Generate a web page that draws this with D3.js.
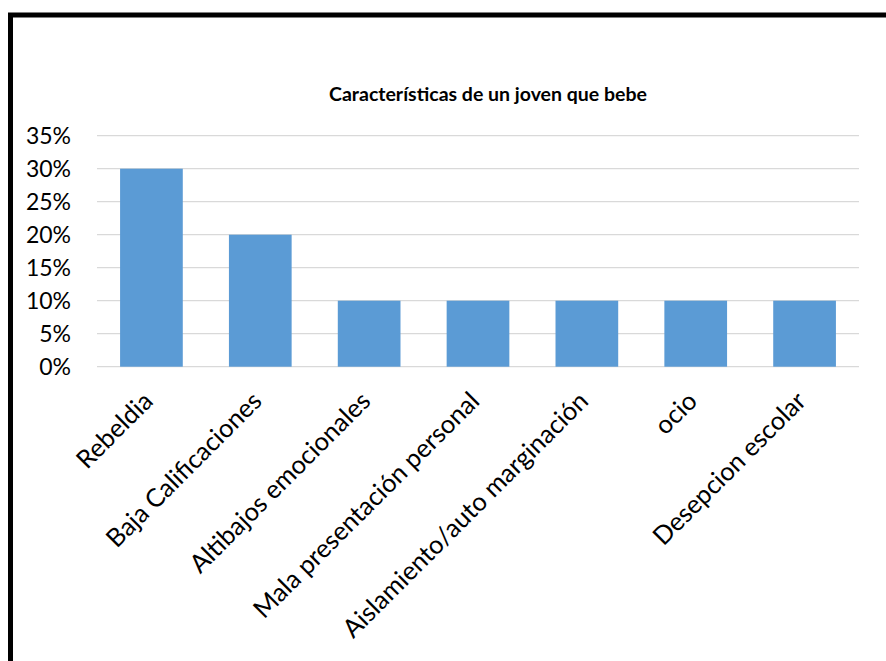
<!DOCTYPE html>
<html>
<head>
<meta charset="utf-8">
<script src="https://cdn.jsdelivr.net/npm/d3@7"></script>
<style>
  html, body { margin: 0; padding: 0; background: #fff; }
  svg { display: block; }
</style>
</head>
<body>
<svg id="chart" width="886" height="661"></svg>
<script>
// Chart data
const categories = [
  "Rebeldia",
  "Baja Calificaciones",
  "Altibajos emocionales",
  "Mala presentación personal",
  "Aislamiento/auto marginación",
  "ocio",
  "Desepcion escolar"
];
const values = [0.30, 0.20, 0.10, 0.10, 0.10, 0.10, 0.10];
const yTicks = [0, 0.05, 0.10, 0.15, 0.20, 0.25, 0.30, 0.35];
const title = "Características de un joven que bebe";

const svg = d3.select("#chart");
const W = 886, H = 661;
const font = "Lato, 'Open Sans', sans-serif";

svg.append("rect").attr("width", W).attr("height", H).attr("fill", "#fff");

// Outer frame
svg.append("rect")
  .attr("x", 10.5).attr("y", 15)
  .attr("width", 900).attr("height", 700)
  .attr("fill", "none").attr("stroke", "#000").attr("stroke-width", 5);

const plot = { left: 97, right: 859, top: 135.7, bottom: 366.7 };

const x = d3.scaleBand()
  .domain(categories)
  .range([plot.left, plot.right])
  .paddingInner(0.424)
  .paddingOuter(0.212);

const y = d3.scaleLinear()
  .domain([0, 0.35])
  .range([plot.bottom, plot.top]);

// Gridlines
svg.append("g")
  .selectAll("line")
  .data(yTicks)
  .join("line")
  .attr("x1", plot.left).attr("x2", plot.right)
  .attr("y1", d => y(d)).attr("y2", d => y(d))
  .attr("stroke", "#d9d9d9").attr("stroke-width", 1.3);

// Y axis labels
const yAxis = d3.axisLeft(y).tickValues(yTicks).tickFormat(d3.format(".0%")).tickSize(0).tickPadding(26);
const yg = svg.append("g").attr("transform", `translate(${plot.left},0)`).call(yAxis);
yg.select(".domain").remove();
yg.selectAll("text")
  .attr("font-family", font).attr("font-size", 23).attr("fill", "#000");

// Bars
svg.append("g")
  .selectAll("rect")
  .data(categories.map((c, i) => ({ c, v: values[i] })))
  .join("rect")
  .attr("x", d => x(d.c))
  .attr("width", x.bandwidth())
  .attr("y", d => y(d.v))
  .attr("height", d => y(0) - y(d.v))
  .attr("fill", "#5b9bd5");

// X axis labels, rotated
svg.append("g")
  .selectAll("text")
  .data(categories)
  .join("text")
  .attr("transform", d => `translate(${x(d) + x.bandwidth() / 2 + 3},${plot.bottom + 36}) rotate(-45)`)
  .attr("text-anchor", "end")
  .attr("font-family", font).attr("font-size", 25.5).attr("fill", "#000")
  .text(d => d);

// Title
svg.append("text")
  .attr("x", 488).attr("y", 101)
  .attr("text-anchor", "middle")
  .attr("font-family", font).attr("font-size", 19.5).attr("font-weight", "bold")
  .attr("fill", "#000")
  .text(title);
</script>
</body>
</html>
